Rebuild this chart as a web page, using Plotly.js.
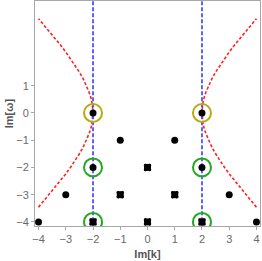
<!DOCTYPE html>
<html><head><meta charset="utf-8">
<script src="https://cdn.plot.ly/plotly-3.0.1.min.js"></script>
<style>body{margin:0;padding:0;background:#fff}</style>
</head><body><div id="chart" style="width:262px;height:261px"></div>
<script>
// hyperbola branch: Im[omega] values and |Im[k]| values
const curveOmega = [-3.46,-3.2,-3.0,-2.75,-2.5,-2.25,-2.0,-1.75,-1.5,-1.25,-1.0,-0.75,-0.5,-0.25,0,0.25,0.5,0.75,1.0,1.25,1.5,1.75,2.0,2.25,2.5,2.75,3.0,3.2,3.46];
const curveK = [4.0,3.78,3.61,3.4,3.2,3.01,2.83,2.66,2.5,2.36,2.24,2.14,2.06,2.02,2.0,2.02,2.06,2.14,2.24,2.36,2.5,2.66,2.83,3.01,3.2,3.4,3.61,3.78,4.0];
const vLinesK = [-2, 2];
const vLineOmega = [-4.2, 4.2];
// dot points
const dotK = [-2, 2, -1, 1, -2, 2, -3, 3, -4, 4];
const dotOmega = [0, 0, -1, -1, -2, -2, -3, -3, -4, -4];
// square points
const sqK = [0, -1, 1, 0, -2, 2];
const sqOmega = [-2, -3, -3, -4, -4, -4];
// circled points
const yellowK = [-2, 2];
const yellowOmega = [0, 0];
const greenK = [-2, 2, -2, 2];
const greenOmega = [-2, -2, -4, -4];
const xTicks = [-4, -3, -2, -1, 0, 1, 2, 3, 4];
const yTicks = [-4, -3, -2, -1, 0, 1];

const traces = [];
traces.push({x: curveK.map(v => -v), y: curveOmega, mode: 'lines', line: {color: '#ff2020', width: 1.6, dash: '3px,2px'}, hoverinfo: 'skip'});
traces.push({x: curveK, y: curveOmega, mode: 'lines', line: {color: '#ff2020', width: 1.6, dash: '3px,2px'}, hoverinfo: 'skip'});
vLinesK.forEach(k => traces.push({x: [k, k], y: vLineOmega, mode: 'lines', line: {color: '#3a3aff', width: 1.6, dash: '4px,2px'}, hoverinfo: 'skip'}));
traces.push({x: yellowK, y: yellowOmega, mode: 'markers', marker: {symbol: 'circle-open', size: 18, color: '#b8aa10', line: {width: 2}}});
traces.push({x: greenK, y: greenOmega, mode: 'markers', marker: {symbol: 'circle-open', size: 18, color: '#22a822', line: {width: 2}}});
traces.push({x: dotK, y: dotOmega, mode: 'markers', marker: {symbol: 'circle', size: 7, color: '#000'}});
traces.push({x: sqK, y: sqOmega, mode: 'markers', marker: {symbol: 'square', size: 7, color: '#000'}});
traces.push({x: sqK, y: sqOmega, mode: 'markers', marker: {symbol: 'x', size: 7, color: '#000', line: {width: 0}}});

const axisCommon = {showgrid: false, zeroline: false, showline: true, mirror: true, linecolor: '#a8a8a8', linewidth: 1, ticks: 'outside', ticklen: 3, tickcolor: '#a8a8a8', tickfont: {family: 'Liberation Sans, Arial, sans-serif', size: 11, color: '#6a6a6a'}};
const layout = {
  width: 262, height: 261, showlegend: false,
  margin: {l: 35, r: 2, t: 1, b: 35},
  paper_bgcolor: '#fff', plot_bgcolor: '#fff',
  xaxis: Object.assign({}, axisCommon, {range: [-4.13, 4.13], tickvals: xTicks, ticktext: xTicks.map(v => v < 0 ? '\u2212' + (-v) : String(v)),
    title: {text: 'Im[k]', font: {family: 'Liberation Sans, Arial, sans-serif', size: 11, color: '#555', weight: 'bold'}, standoff: 6}}),
  yaxis: Object.assign({}, axisCommon, {range: [-4.15, 4.11], tickvals: yTicks, ticktext: yTicks.map(v => v < 0 ? '\u2212' + (-v) : String(v)),
    title: {text: 'Im[\u03c9]', font: {family: 'Liberation Sans, Arial, sans-serif', size: 11, color: '#555', weight: 'bold'}, standoff: 0}})
};
Plotly.newPlot('chart', traces, layout, {staticPlot: true, displayModeBar: false});
</script></body></html>
